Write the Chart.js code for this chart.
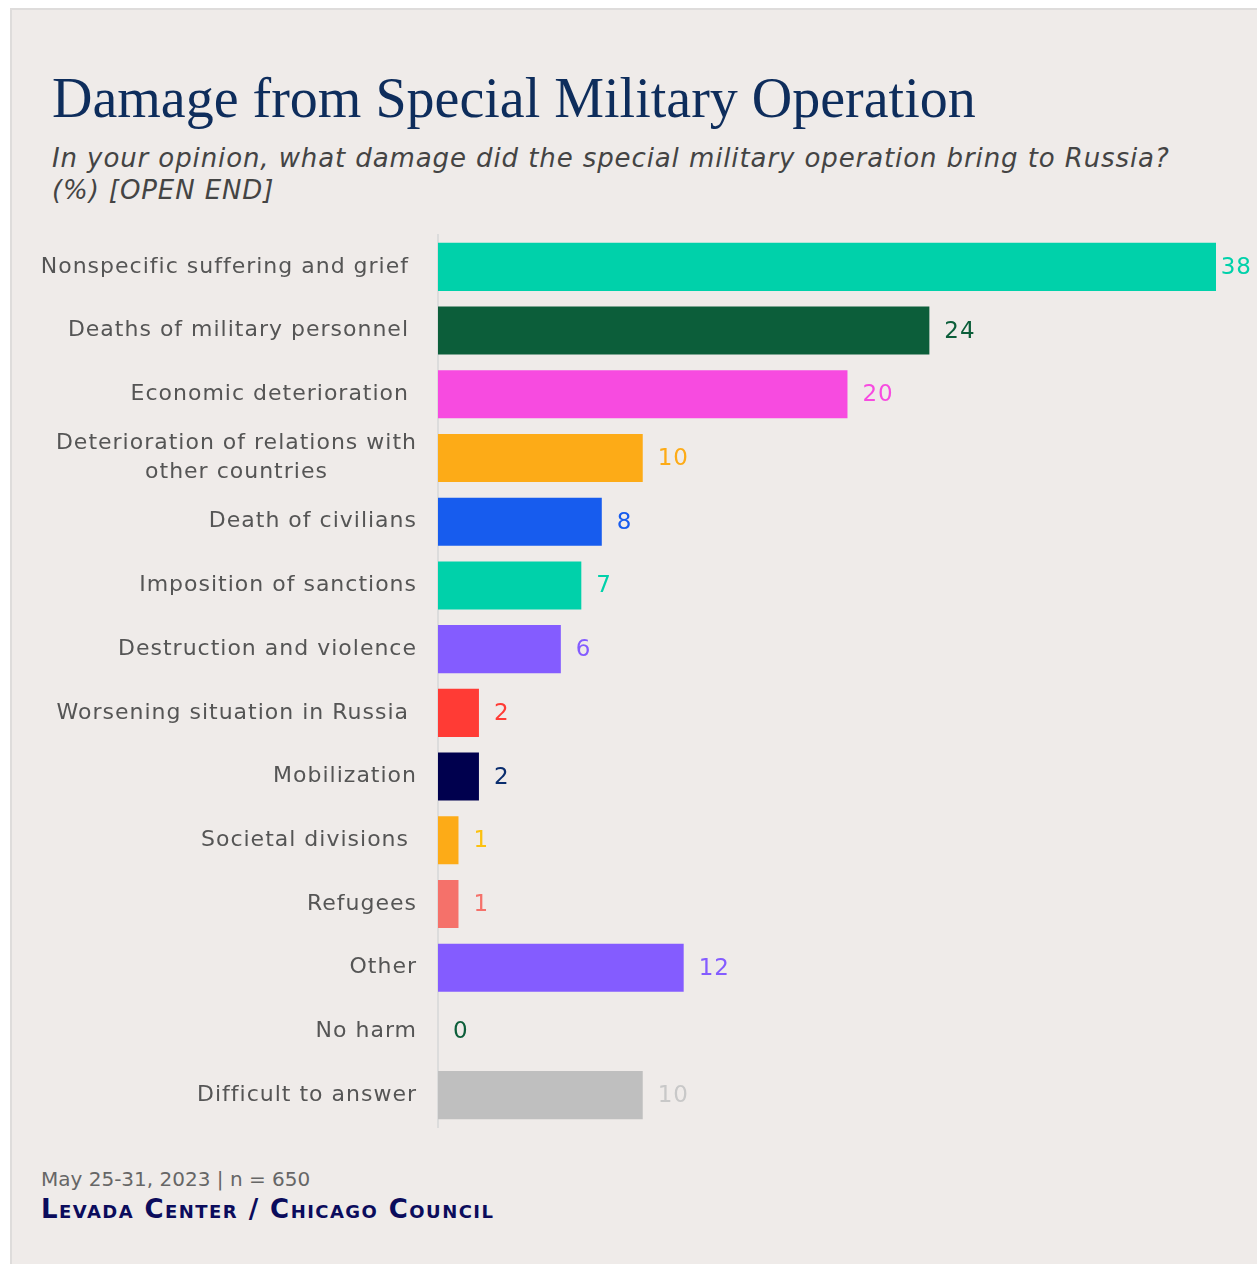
<!DOCTYPE html>
<html lang="en">
  <head>
    <meta charset="utf-8">
    <title>Damage from Special Military Operation</title>
    <script src="https://cdn.jsdelivr.net/npm/chart.js"></script>
    <style>
      html, body { margin: 0; padding: 0; background: #fff; }
      body { width: 1257px; height: 1264px; position: relative; overflow: hidden; }
      .card {
        position: absolute; left: 10px; top: 8px; width: 1260px; height: 1270px;
        background: #efebe9; border: 2px solid #dedcdb; box-sizing: border-box;
      }
      .title {
        position: absolute; left: 52px; top: 66px; margin: 0;
        font-family: "Liberation Serif", serif; font-weight: normal;
        font-size: 56px; color: #0e2d5c; white-space: nowrap;
      }
      .sub {
        position: absolute; left: 52px; top: 142px; margin: 0;
        font-family: "DejaVu Sans", sans-serif; font-style: italic;
        font-size: 26px; line-height: 32px; color: #444; white-space: nowrap;
        letter-spacing: 0.9px;
      }
      .foot1 {
        position: absolute; left: 41px; top: 1167px;
        font-family: "DejaVu Sans", sans-serif; font-size: 20px; color: #666;
      }
      .foot2 {
        position: absolute; left: 41px; top: 1194px;
        font-family: "DejaVu Sans", sans-serif; font-size: 26px; color: #0b0c5c;
        font-variant: small-caps; font-weight: bold; letter-spacing: 1.45px;
      }
      #chartBox { position: absolute; left: 0; top: 0; width: 1257px; height: 1264px; }
    </style>
  </head>
  <body>
    <div class="card"></div>
    <h1 class="title">Damage from Special Military Operation</h1>
    <p class="sub">In your opinion, what damage did the special military operation bring to Russia?<br>(%) [OPEN END]</p>
    <div class="foot1">May 25-31, 2023 | n = 650</div>
    <div class="foot2">Levada Center / Chicago Council</div>

    <div id="chartBox"><canvas id="myChart"></canvas></div>

    <script>
      // categories (trailing spaces kept as in the original labels)
      const categories = [
        'Nonspecific suffering and grief ',
        'Deaths of military personnel ',
        'Economic deterioration ',
        ['Deterioration of relations with', 'other countries'],
        'Death of civilians',
        'Imposition of sanctions',
        'Destruction and violence',
        'Worsening situation in Russia ',
        'Mobilization',
        'Societal divisions ',
        'Refugees',
        'Other',
        'No harm',
        'Difficult to answer'
      ];
      const values = [38, 24, 20, 10, 8, 7, 6, 2, 2, 1, 1, 12, 0, 10];
      const xMin = 0;
      const xMax = 38;

      const barColors = ['#00d1aa', '#0c5e3a', '#f74be0', '#fdab17', '#175cee', '#00d1aa', '#845cff',
                         '#ff3b35', '#00004e', '#fdab17', '#f5716a', '#845cff', '#0c5e3a', '#bfbfbf'];
      const labelColors = ['#00d1aa', '#0c5e3a', '#f74be0', '#fdab17', '#175cee', '#00d1aa', '#845cff',
                           '#ff3b35', '#0a2d6e', '#fcc10f', '#f5716a', '#845cff', '#0c5e3a', '#c8c8c8'];

      const FONT = '"DejaVu Sans", sans-serif';

      // category labels and value labels, placed through the scales
      const labelPlugin = {
        id: 'labels',
        afterDatasetsDraw(chart) {
          const c = chart.ctx;
          const xs = chart.scales.x;
          const ys = chart.scales.y;
          c.save();
          c.textBaseline = 'middle';
          c.font = '22px ' + FONT;
          c.letterSpacing = '1px';
          categories.forEach((lab, i) => {
            const y = ys.getPixelForTick(i);
            const right = chart.chartArea.left - 21;
            c.fillStyle = '#555';
            if (Array.isArray(lab)) {
              const w = Math.max(...lab.map(l => c.measureText(l).width));
              const cx = right - w / 2;
              c.textAlign = 'center';
              lab.forEach((l, k) => c.fillText(l, cx, y + (k - (lab.length - 1) / 2) * 29));
            } else {
              c.textAlign = 'right';
              c.fillText(lab, right, y);
            }
          });
          c.font = '23px ' + FONT;
          c.letterSpacing = '1px';
          c.textAlign = 'left';
          chart.getDatasetMeta(0).data.forEach((bar, i) => {
            const txt = String(values[i]);
            const w = c.measureText(txt).width;
            let x = xs.getPixelForValue(values[i]) + 15;
            if (x + w > chart.width - 5) x = chart.width - 5 - w;
            c.fillStyle = labelColors[i];
            c.fillText(txt, x, bar.y + 1);
          });
          c.restore();
        }
      };

      const ctx = document.getElementById('myChart');
      new Chart(ctx, {
        type: 'bar',
        data: {
          labels: categories,
          datasets: [{
            data: values,
            backgroundColor: barColors,
            borderWidth: 0,
            categoryPercentage: 1,
            barPercentage: 0.754
          }]
        },
        options: {
          indexAxis: 'y',
          responsive: true,
          maintainAspectRatio: false,
          animation: false,
          layout: { padding: { left: 438, right: 41, top: 235, bottom: 137 } },
          plugins: { legend: { display: false }, tooltip: { enabled: false } },
          scales: {
            x: { min: xMin, max: xMax, display: false },
            y: {
              grid: { display: false },
              ticks: { display: false },
              border: { display: true, color: '#dcdcdc', width: 2 },
              afterFit(scale) { scale.width = 0; }
            }
          }
        },
        plugins: [labelPlugin]
      });
    </script>
  </body>
</html>
